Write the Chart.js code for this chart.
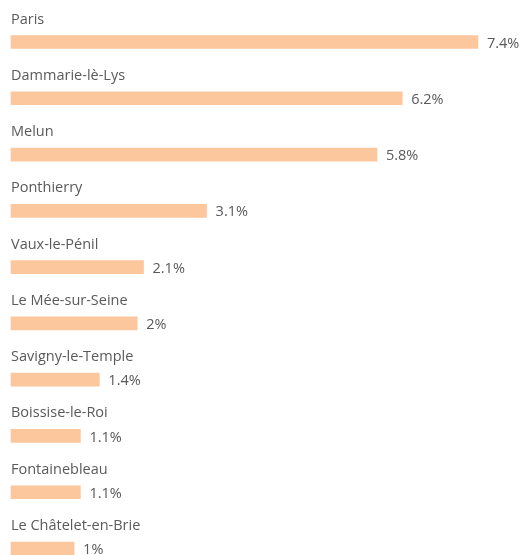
<!DOCTYPE html>
<html>
<head>
<meta charset="utf-8">
<script src="https://cdn.jsdelivr.net/npm/chart.js@4.4.0/dist/chart.umd.min.js"></script>
<style>
  html, body { margin: 0; padding: 0; background: #fff; }
  #wrap { width: 524px; height: 555px; position: relative; }
</style>
</head>
<body>
<div id="wrap"><canvas id="chart"></canvas></div>
<script>
// data
const cities = [
  "Paris", "Dammarie-lè-Lys", "Melun", "Ponthierry", "Vaux-le-Pénil",
  "Le Mée-sur-Seine", "Savigny-le-Temple", "Boissise-le-Roi", "Fontainebleau", "Le Châtelet-en-Brie"
];
const shares = [7.4, 6.2, 5.8, 3.1, 2.1, 2, 1.4, 1.1, 1.1, 1];

const textColor = "#5a5a5a";
const barColor = "rgb(253, 199, 158)";
const fontFamily = "'Open Sans', 'Noto Sans', sans-serif";

// draws city name above each bar and the value after it
const barLabels = {
  id: "barLabels",
  afterDatasetsDraw(chart) {
    const ctx = chart.ctx;
    const meta = chart.getDatasetMeta(0);
    ctx.save();
    ctx.fillStyle = textColor;
    ctx.font = "14.5px " + fontFamily;
    meta.data.forEach((bar, i) => {
      ctx.textAlign = "left";
      ctx.textBaseline = "alphabetic";
      ctx.fillText(cities[i], chart.chartArea.left, bar.y - 18.5);
      ctx.textBaseline = "middle";
      ctx.fillText(shares[i] + "%", bar.x + 9, bar.y + 1.5);
    });
    ctx.restore();
  }
};

new Chart(document.getElementById("chart").getContext("2d"), {
  type: "bar",
  data: {
    labels: cities,
    datasets: [{
      data: shares,
      backgroundColor: barColor,
      borderWidth: 0,
      barThickness: 13,
      clip: false
    }]
  },
  options: {
    indexAxis: "y",
    responsive: true,
    maintainAspectRatio: false,
    animation: false,
    layout: { padding: { left: 11, right: 0, top: 42, bottom: 6.5 } },
    scales: {
      x: { display: false, min: 0, max: 8.13 },
      y: { display: false, offset: false }
    },
    plugins: {
      legend: { display: false },
      tooltip: { enabled: false }
    }
  },
  plugins: [barLabels]
});
</script>
</body>
</html>
